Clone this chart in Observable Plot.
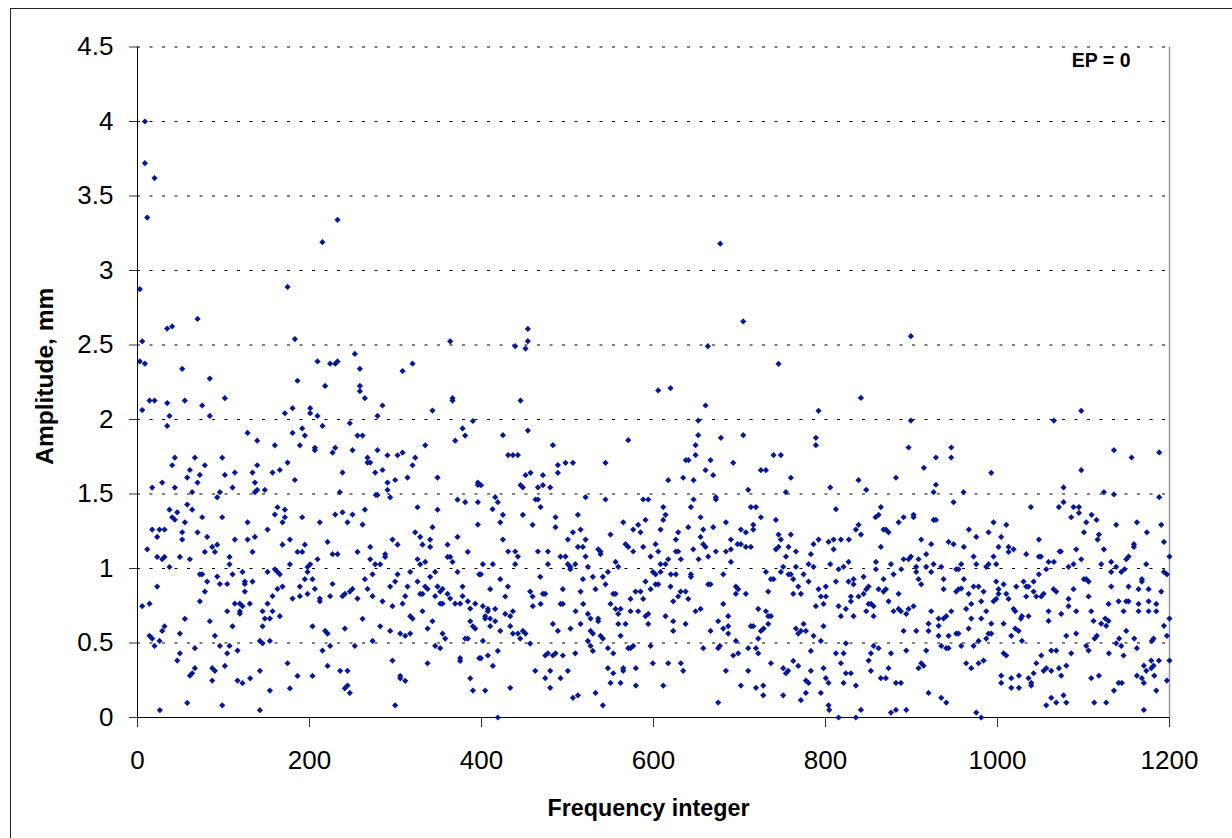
<!DOCTYPE html>
<html>
<head>
<meta charset="utf-8">
<script src="https://cdn.jsdelivr.net/npm/d3@7"></script>
<script src="https://cdn.jsdelivr.net/npm/@observablehq/plot@0.6"></script>
<style>
html,body{margin:0;padding:0;background:#fff;}
#wrap{position:relative;width:1232px;height:838px;overflow:hidden;}
#edge{position:absolute;left:10px;top:8px;right:-5px;bottom:-5px;border-left:1.5px solid #222;border-top:1.5px solid #222;}
#wrap svg{position:absolute;left:0;top:0;background:transparent !important;}
</style>
</head>
<body>
<div id="wrap"><div id="edge"></div></div>
<script>
const xTicks = [0,200,400,600,800,1000,1200];
const yTicks = [0,0.5,1,1.5,2,2.5,3,3.5,4,4.5];
const tagText = "EP = 0";
const xTitle = "Frequency integer";
const yTitle = "Amplitude, mm";

// [frequency integer, amplitude in mm]
const leftUpper = [[8.6,4],[8.6,3.72],[19.8,3.62],[11.3,3.355],[232.6,3.34],[215,3.19],[2.7,2.875],[174.5,2.89],[69.8,2.675],[40.3,2.625],[34.5,2.61],[183,2.54],[5.5,2.525],[363.6,2.525],[2.7,2.39],[8.6,2.375],[209.3,2.39],[224,2.375],[230,2.375],[232.6,2.39],[252.7,2.44],[258.6,2.34],[319.8,2.375],[308.2,2.325],[52,2.34],[84.1,2.275],[186,2.26],[218.2,2.225],[258.6,2.225],[258.6,2.19],[264.4,2.143],[366.3,2.143],[366.3,2.127],[101.6,2.143],[14,2.127],[19.8,2.127],[34.5,2.11],[55,2.127],[75.2,2.094],[284.9,2.094],[180.3,2.076],[200.8,2.076],[5.5,2.063],[343,2.06]];
const leftLower = [[37.2,2.024],[84.1,2.024],[34.5,1.957],[171.4,2.042],[200.8,2.042],[209.3,2.024],[215.1,1.957],[246.9,1.975],[279.1,2.024],[390,1.99],[378,1.94],[381,1.892],[369.4,1.858],[191.5,1.94],[180.3,1.91],[194.6,1.892],[188.8,1.827],[128,1.91],[139.2,1.858],[159.7,1.827],[255.8,1.892],[261.7,1.892],[334.5,1.827],[206.2,1.81],[206.2,1.794],[229.9,1.81],[226.8,1.778],[250,1.794],[279,1.794],[308.2,1.778],[302.4,1.76],[290.7,1.76],[322.9,1.744],[267.5,1.744],[267.5,1.711],[270.6,1.711],[43.4,1.744],[40.3,1.693],[66.7,1.744],[78.3,1.693],[98.5,1.744],[60.9,1.661],[57.8,1.61],[72.5,1.628],[69.8,1.577],[101.6,1.628],[113.2,1.644],[133.7,1.644],[139.2,1.693],[157,1.644],[165.5,1.661],[174.5,1.711],[183,1.594],[238.4,1.644],[319.8,1.693],[284.9,1.661],[276.4,1.644],[314,1.61],[299.6,1.594],[290.7,1.577],[348.9,1.61],[17.1,1.543],[28.7,1.577],[43.4,1.543],[63.6,1.512],[95.8,1.512],[92.7,1.478],[110.5,1.543],[136.5,1.577],[139.2,1.527],[136.5,1.512],[148.1,1.527],[235.3,1.512],[277.2,1.494],[279,1.494],[290.7,1.527],[293.8,1.478],[395.8,1.577],[395.8,1.561],[372.1,1.462],[381,1.445],[395.8,1.445],[325.6,1.411],[348.9,1.395],[37.2,1.395],[46.2,1.377],[57.8,1.429],[63.6,1.395],[40.3,1.344],[43.4,1.328],[55.1,1.31],[75.2,1.344],[98.5,1.344],[162.8,1.411],[171.4,1.395],[159.7,1.362],[171.4,1.344],[168.6,1.31],[191.5,1.344],[212,1.31],[229.9,1.362],[238.4,1.377],[250,1.362],[244.2,1.31],[264.4,1.395],[261.7,1.295],[395.8,1.295],[128,1.31],[17.1,1.261],[25.6,1.261],[31.4,1.261],[22.9,1.212],[52,1.243],[52,1.194],[69.8,1.243],[81,1.212],[113.2,1.194],[128,1.194],[136.5,1.212],[151.2,1.261],[177.2,1.194],[168.6,1.16],[194.6,1.16],[221,1.178],[322.9,1.243],[328.7,1.212],[343,1.277],[340.3,1.194],[331.4,1.16],[340.3,1.145],[296.5,1.194],[302.4,1.16],[270.6,1.145],[360.5,1.16],[372.1,1.212],[11.3,1.129],[86.9,1.145],[92.7,1.16],[78.3,1.111],[90,1.111],[133.7,1.111],[186.1,1.111],[191.5,1.111],[226.8,1.096],[232.6,1.096],[255.8,1.111],[288,1.096],[288,1.078],[384.1,1.111],[22.9,1.078],[31.4,1.078],[28.7,1.062],[49.3,1.078],[60.9,1.062],[107,1.078],[107,1.028],[209.3,1.062],[270.6,1.062],[325.6,1.062],[334.5,1.044],[328.7,1.028],[360.5,1.078],[363.6,1.078],[366.3,1.044],[200.8,1.028],[197.7,1.01],[177.2,1.028],[276.4,1.028],[282.2,1.028],[37.2,1.01],[159.7,0.995],[162.8,0.977],[165.5,0.961],[151.2,0.977],[122.1,0.977],[197.7,0.977],[317.1,0.977],[346.1,0.977],[372.1,0.977],[397.3,0.961],[72.5,0.961],[75.2,0.961],[110.5,0.961],[92.7,0.946],[273.3,0.961],[302.4,0.961],[340.3,0.944],[264.4,0.928],[194.6,0.928],[203.5,0.928],[81,0.912],[124.8,0.912],[133.7,0.912],[325.6,0.912],[299.6,0.912],[95.8,0.896],[104.3,0.896],[124.8,0.896],[226.8,0.896],[22.9,0.879],[168.6,0.879],[188.8,0.879],[293.8,0.879],[314,0.879],[334.5,0.879],[337.3,0.863],[348.9,0.879],[378,0.879],[162.8,0.863],[267.5,0.863],[354.7,0.863],[352,0.845],[78.3,0.845],[124.8,0.845],[250,0.863],[246.9,0.845],[206.2,0.863],[197.7,0.829],[188.8,0.814],[157,0.814],[180.3,0.798],[212,0.798],[212,0.78],[224,0.814],[241.1,0.829],[238.4,0.814],[255.8,0.798],[273.3,0.814],[284.9,0.78],[311.3,0.814],[328.7,0.829],[331.4,0.829],[346.1,0.814],[360.5,0.829],[363.6,0.798],[378,0.814],[384.1,0.78],[72.5,0.78],[5.5,0.747],[14,0.764],[113.2,0.764],[119,0.764],[122.1,0.747],[130.6,0.764],[151.2,0.764],[296.5,0.747],[308.2,0.764],[352,0.764],[354.7,0.764],[369.4,0.764],[375.2,0.764],[392.7,0.764],[386.9,0.731],[104.3,0.713],[119,0.713],[119,0.697],[145.4,0.713],[157,0.713],[331.4,0.713],[317.1,0.68],[319.8,0.664],[165.5,0.68],[148.1,0.664],[153.9,0.664],[55.1,0.662],[84.1,0.646],[261.7,0.662],[343,0.646],[386.9,0.646],[390,0.612],[392.7,0.597],[110.5,0.612],[145.4,0.612],[203.5,0.612],[282.2,0.612],[31.4,0.612],[28.7,0.581],[49.3,0.563],[241.1,0.597],[218.2,0.581],[221,0.563],[293.8,0.581],[337.3,0.597],[305.5,0.563],[311.3,0.548],[317.1,0.563],[354.7,0.563],[357.8,0.53],[14,0.548],[17.1,0.53],[90,0.548],[25.6,0.514],[142.3,0.514],[145.4,0.498],[153.9,0.514],[273.3,0.514],[381,0.53],[384.1,0.53],[19.8,0.48],[95.8,0.48],[107,0.48],[224,0.48],[252.7,0.48],[346.1,0.48],[352,0.465],[66.7,0.465],[116.3,0.449],[215.1,0.449],[49.3,0.431],[104.3,0.431],[46.2,0.382],[375.2,0.398],[375.2,0.38],[397.3,0.398],[296.5,0.382],[174.5,0.364],[337.3,0.364],[101.6,0.346],[221,0.346],[66.7,0.331],[63.6,0.297],[60.9,0.281],[86.9,0.331],[90,0.313],[142.3,0.313],[235.7,0.313],[244.2,0.313],[186.1,0.279],[203.5,0.279],[305.5,0.279],[305.5,0.263],[386.9,0.263],[131,0.263],[86.9,0.248],[116.3,0.248],[122.1,0.23],[311.3,0.246],[244.2,0.214],[241.1,0.196],[177.2,0.196],[153.9,0.181],[390,0.181],[246.9,0.165],[57.8,0.098],[98.5,0.082],[299.6,0.082],[26,0.049],[142.3,0.049]];
const midUpper = [[677.6,3.18],[453.9,2.608],[453.9,2.526],[439.2,2.492],[451.2,2.476],[663.2,2.492],[704.3,2.658],[745.4,2.374],[605.5,2.195],[619.8,2.21],[445.4,2.127],[660.5,2.094],[791.9,2.058],[652,1.993],[453.9,1.926],[424.9,1.895],[652,1.895],[678.4,1.877],[704.3,1.895],[788.8,1.877],[570.6,1.861],[483,1.828],[648.9,1.828],[788.8,1.828],[431,1.761],[436.5,1.761],[442.3,1.761],[648.9,1.761],[739.6,1.761],[748.1,1.761],[637.6,1.727],[640.7,1.727],[666.3,1.727],[497.7,1.709],[506.3,1.709],[544.2,1.709],[692.7,1.709],[488.8,1.694],[488.8,1.642],[457,1.642],[451.2,1.626],[471.4,1.626],[660.5,1.66],[724.9,1.66],[730.7,1.66],[669.4,1.626],[617.1,1.593],[634.5,1.609],[646.6,1.593],[759.7,1.609],[399.3,1.559],[445.4,1.559],[448.1,1.544],[465.6,1.544],[471.4,1.559],[479.9,1.544],[710.1,1.528],[753.9,1.512],[805.5,1.544],[415.9,1.479],[419,1.445],[412.8,1.398],[521,1.479],[462.8,1.463],[465.6,1.463],[468.7,1.412],[544.2,1.463],[588,1.463],[593.9,1.463],[646.6,1.463],[672.5,1.479],[672.5,1.463],[611.3,1.412],[643.5,1.412],[713.2,1.412],[719.1,1.412]];
const midLower = [[424.9,1.36],[448.1,1.36],[486.1,1.344],[512.1,1.36],[421.8,1.31],[459.4,1.293],[486.1,1.277],[515.2,1.261],[506.3,1.243],[564.8,1.31],[590.7,1.326],[614,1.36],[611.3,1.326],[654.7,1.344],[724.9,1.344],[742.3,1.326],[684.2,1.31],[716,1.293],[716,1.261],[582.2,1.293],[576.4,1.261],[584.9,1.243],[608.2,1.261],[628.7,1.243],[640.4,1.277],[657.8,1.261],[669.4,1.277],[701.6,1.261],[707.4,1.243],[759.7,1.228],[745.4,1.228],[550,1.228],[424.9,1.194],[500.4,1.194],[521,1.194],[626,1.194],[654.7,1.212],[690,1.194],[748.1,1.194],[791.9,1.194],[803.5,1.178],[786.1,1.163],[567.5,1.163],[570.6,1.145],[588,1.145],[602.4,1.163],[657.8,1.163],[660.5,1.145],[512.1,1.145],[517.9,1.145],[697.7,1.163],[701.6,1.163],[707.4,1.145],[713.2,1.145],[757,1.145],[745.4,1.145],[742.3,1.129],[431,1.114],[439.2,1.114],[465.6,1.114],[477.2,1.114],[535.7,1.129],[538.4,1.114],[538.4,1.096],[576.4,1.114],[605.5,1.114],[626,1.114],[628.7,1.114],[646.2,1.129],[672.5,1.114],[684.2,1.114],[690,1.129],[765.6,1.114],[783,1.096],[442.3,1.08],[491.9,1.08],[497.7,1.08],[521,1.08],[596.6,1.08],[663.6,1.08],[754,1.08],[652.4,1.062],[631.8,1.062],[617.1,1.062],[690,1.044],[555.9,1.044],[401.6,1.029],[413.2,1.029],[439.2,1.029],[477.2,1.029],[500.4,1.029],[509,1.029],[608.2,1.029],[614,1.029],[780.3,1.029],[805.5,1.029],[503.2,1.011],[503.2,0.995],[523.7,1.011],[559,1.011],[750.8,1.011],[765.6,1.011],[786.1,1.011],[547,0.977],[599.3,0.977],[602.4,0.961],[608.2,0.977],[730.7,0.977],[748.1,0.977],[399.3,0.961],[620.2,0.961],[626,0.961],[643.5,0.961],[643.5,0.944],[681.1,0.961],[757,0.961],[759.7,0.961],[774.5,0.961],[468.3,0.944],[529.5,0.944],[541.1,0.944],[421.8,0.928],[517.9,0.928],[590.7,0.912],[736.5,0.928],[739.6,0.928],[762.5,0.928],[780.3,0.912],[544.2,0.894],[602.4,0.894],[605.5,0.894],[663.6,0.894],[666.3,0.894],[430.7,0.879],[619.8,0.879],[695.8,0.879],[698.5,0.861],[768.3,0.879],[800.4,0.879],[410.1,0.861],[494.6,0.861],[532.6,0.861],[596.6,0.861],[791.9,0.861],[456.6,0.845],[515.2,0.845],[579.1,0.845],[584.9,0.845],[631.5,0.845],[637.3,0.845],[733.4,0.845],[471.4,0.83],[474.1,0.83],[553.2,0.83],[555.9,0.83],[695.8,0.83],[707.4,0.83],[762.5,0.83],[771.4,0.83],[459.4,0.812],[427.6,0.812],[628.7,0.812],[794.6,0.812],[800.4,0.812],[573.3,0.796],[588,0.796],[640.4,0.796],[622.9,0.78],[468.7,0.762],[491.9,0.762],[494.6,0.762],[518.3,0.762],[550,0.762],[681.1,0.762],[797.7,0.762],[401.6,0.747],[459.7,0.747],[788.8,0.747],[407.4,0.729],[415.9,0.729],[555.9,0.729],[561.7,0.729],[721.8,0.729],[407.4,0.713],[436.5,0.713],[509.4,0.713],[573.3,0.713],[582.2,0.713],[654.7,0.729],[648.9,0.713],[730.7,0.713],[427.6,0.695],[523.7,0.695],[559,0.695],[593.9,0.695],[590.7,0.68],[404.3,0.68],[433.4,0.68],[614,0.68],[686.9,0.68],[733.4,0.68],[736.5,0.68],[410.1,0.664],[404.3,0.664],[526.8,0.664],[535.7,0.664],[535.7,0.646],[415.9,0.646],[622.9,0.646],[675.2,0.646],[483,0.628],[515.2,0.628],[559,0.628],[567.5,0.628],[593.9,0.628],[637.3,0.628],[733.4,0.628],[774.5,0.628],[797.7,0.613],[410.1,0.613],[433.4,0.613],[686.9,0.613],[713.2,0.613],[716,0.613],[503.5,0.597],[681.1,0.597],[728,0.597],[765.6,0.597],[421.8,0.581],[488.8,0.581],[448.1,0.581],[622.9,0.581],[666.3,0.581],[724.9,0.581],[777.2,0.581],[526.8,0.581],[529.5,0.563],[436.5,0.563],[442.3,0.563],[451.2,0.563],[686.9,0.563],[768.3,0.563],[771.4,0.581],[538.4,0.548],[561.7,0.548],[786.1,0.548],[541.1,0.53],[445,0.53],[721.8,0.53],[401.6,0.514],[523.7,0.514],[695.8,0.514],[794.6,0.514],[456.6,0.496],[526.8,0.48],[596.6,0.48],[576.4,0.48],[573.3,0.465],[570.6,0.465],[547,0.465],[657.8,0.465],[710.1,0.465],[719.1,0.465],[677.2,0.48],[675.2,0.465],[529.5,0.447],[419,0.447],[553.2,0.431],[477.2,0.431],[486.1,0.431],[509,0.431],[698.5,0.431],[721.8,0.431],[407.4,0.416],[474.1,0.416],[483,0.416],[494.6,0.416],[692.7,0.416],[783,0.447],[399.3,0.398],[762.5,0.38],[599.3,0.364],[617.1,0.364],[631.8,0.364],[736.5,0.364],[413.2,0.346],[768.3,0.346],[547,0.331],[564.8,0.331],[579.5,0.331],[564.8,0.313],[750.8,0.331],[797.7,0.331],[462.5,0.313],[479.9,0.313],[500.4,0.313],[634.5,0.313],[684.2,0.313],[710.1,0.313],[756.6,0.313],[753.9,0.297],[553.2,0.297],[783,0.313],[474.1,0.264],[491.9,0.264],[800.4,0.264],[777.2,0.248],[780.3,0.232],[550,0.232],[561.7,0.232],[803.5,0.232],[579.5,0.214],[611.3,0.214],[701.6,0.214],[727.6,0.214],[433.4,0.199],[479.9,0.199],[719.1,0.199],[404.3,0.181],[532.6,0.165],[777.2,0.165],[794.6,0.165],[512.1,0.149],[506.3,0.132],[727.6,0.149],[750.8,0.149],[771.4,0.116],[675.2,0.1],[541.1,0.082],[803.5,0.082],[804.3,0.051],[419,0]];
const rightUpper = [[899.3,2.559],[841.2,2.145],[899.3,1.993],[1065.6,1.993],[1097.4,2.058],[896.6,1.812],[946.2,1.812],[928.4,1.745],[946.2,1.745],[1135.4,1.794],[1155.9,1.745],[1188,1.779],[914.4,1.676],[1097.4,1.66],[992.7,1.642],[838.4,1.593],[881.9,1.609],[847.4,1.528],[928.4,1.562],[925.7,1.512],[960.5,1.512],[1076.8,1.544],[1123.7,1.512],[1135.4,1.497],[1188,1.479],[948.9,1.445],[1076.8,1.445],[812.1,1.398],[864.4,1.412],[1038.8,1.412],[1071.4,1.412],[1088.4,1.412],[1094.7,1.412]];
const rightLower = [[1094.7,1.373],[1085.7,1.344],[1109.4,1.36],[1115.2,1.326],[1103.2,1.31],[1138,1.293],[1162.1,1.31],[1190.4,1.293],[1173.7,1.243],[858.2,1.344],[861.7,1.36],[885,1.31],[890.8,1.344],[902.4,1.36],[902.4,1.344],[925.7,1.326],[928.4,1.326],[995.4,1.31],[1010.2,1.293],[838.4,1.293],[835.3,1.261],[841.2,1.228],[867.5,1.261],[870.2,1.261],[873.3,1.243],[966.7,1.261],[989.6,1.243],[975.3,1.212],[1004.3,1.212],[1100.5,1.243],[1117.9,1.228],[1116.4,1.194],[809.4,1.194],[817.9,1.194],[827.2,1.194],[911.3,1.194],[943.1,1.178],[948.9,1.163],[922.9,1.163],[960.9,1.145],[864.4,1.145],[1001.2,1.145],[1012.9,1.145],[1018.7,1.129],[1012.9,1.111],[1048.1,1.194],[1193.5,1.178],[1158.6,1.163],[1158.6,1.145],[1091.5,1.129],[1123.7,1.129],[809.4,1.129],[1072.2,1.114],[1073.7,1.114],[917.1,1.096],[1033.4,1.096],[1048.1,1.08],[1050.5,1.08],[972.2,1.08],[995.4,1.08],[899.3,1.08],[896.6,1.062],[890.8,1.062],[908.2,1.062],[1152.4,1.08],[1149.7,1.062],[1097.4,1.062],[1200,1.08],[826.8,1.044],[858.6,1.044],[1059.4,1.044],[1065.6,1.044],[1132.2,1.044],[876.1,1.029],[925.7,1.029],[957.8,1.029],[975.3,1.029],[989.6,1.029],[998.5,1.029],[1088.4,1.029],[1120.6,1.029],[1172.9,1.029],[821,1.011],[815.2,0.995],[905.5,1.011],[917.1,1.011],[934.6,1.011],[986.9,1.011],[1082.6,1.011],[1138,1.011],[1147.7,0.995],[858.6,0.995],[888.1,0.995],[952,0.995],[954.7,0.995],[1056.7,0.995],[905.5,0.977],[922.9,0.977],[879.1,0.961],[1048.1,0.961],[1132.2,0.977],[1143.9,0.977],[1193.5,0.977],[1197,0.961],[844.3,0.944],[867.5,0.928],[832.6,0.928],[908.2,0.928],[937.3,0.928],[960.9,0.928],[1100.5,0.928],[1103.2,0.928],[1105.9,0.912],[1167.9,0.928],[1167.9,0.912],[812.1,0.912],[826.8,0.912],[832.6,0.894],[911.3,0.894],[998.5,0.912],[1030.3,0.912],[1042,0.912],[1007.1,0.894],[850.1,0.879],[847.4,0.861],[972.2,0.879],[978,0.879],[1021.8,0.879],[1033.4,0.879],[1036.1,0.879],[1132.2,0.879],[1152.4,0.879],[861.7,0.861],[870.2,0.861],[867.5,0.845],[937.3,0.861],[957.8,0.865],[954.7,0.861],[952,0.845],[1001.2,0.861],[983.8,0.845],[1065.2,0.861],[1068.3,0.845],[1088.4,0.861],[1164,0.861],[1175.7,0.861],[1190.4,0.845],[1042,0.845],[844.3,0.83],[885,0.83],[966.4,0.83],[1001.2,0.83],[1010.2,0.83],[1053.6,0.83],[838.4,0.812],[829.5,0.812],[1045.1,0.812],[1050.9,0.812],[1033.4,0.812],[1105.9,0.812],[1012.9,0.796],[998.5,0.796],[1082.6,0.796],[829.5,0.78],[873.3,0.78],[981.1,0.78],[995.4,0.78],[1129.1,0.762],[1140.8,0.78],[1149.7,0.78],[1152.4,0.78],[1164,0.762],[1175.7,0.78],[1184.6,0.762],[850.1,0.762],[853.2,0.762],[855.9,0.747],[969.5,0.762],[815.2,0.747],[823.7,0.729],[902.4,0.747],[896.6,0.729],[1082.6,0.747],[963.6,0.729],[1018.7,0.729],[885,0.729],[879.1,0.713],[887.7,0.713],[847.4,0.713],[922.9,0.713],[946.2,0.713],[986.9,0.713],[1020.6,0.713],[1059.4,0.713],[1091.5,0.713],[1109,0.713],[1146.6,0.713],[1164,0.713],[1175.7,0.713],[1184.6,0.713],[893.9,0.695],[1074.1,0.695],[817.9,0.68],[832.6,0.68],[855.9,0.68],[940.4,0.68],[1028.4,0.68],[1036.1,0.68],[931.5,0.664],[937.3,0.664],[969.5,0.664],[981.1,0.664],[1027.2,0.664],[1125.3,0.664],[1129.1,0.648],[1200,0.664],[1111.7,0.648],[1059.4,0.648],[919.8,0.63],[992.7,0.63],[1007.1,0.63],[1120.6,0.63],[931.5,0.615],[1126.4,0.615],[1193.5,0.615],[966.4,0.597],[1020.6,0.597],[890.8,0.581],[905.5,0.581],[919.8,0.581],[1024.5,0.581],[1149.7,0.581],[952,0.563],[954.7,0.563],[989.6,0.563],[992.7,0.563],[1091.5,0.563],[931.5,0.548],[943.1,0.548],[986.9,0.53],[1016,0.548],[1080,0.548],[1115.5,0.548],[1197,0.548],[1112.9,0.53],[1141.5,0.53],[1159,0.53],[1181.5,0.53],[978,0.514],[1028.4,0.514],[1179.5,0.514],[823.7,0.498],[1138,0.498],[855.9,0.48],[934.6,0.48],[957.8,0.48],[972.2,0.48],[1103.2,0.48],[1143.9,0.48],[861.7,0.465],[940.4,0.465],[943.1,0.465],[1162.1,0.465],[1062.5,0.449],[1068.3,0.449],[893.9,0.449],[917.1,0.449],[1105.9,0.449],[812.1,0.431],[821,0.431],[852.8,0.431],[876.1,0.431],[1007.1,0.431],[1085.7,0.431],[1129.5,0.431],[1010.2,0.416],[1050.9,0.416],[1146.6,0.416],[850.1,0.382],[983.8,0.382],[1178.8,0.382],[1187.7,0.382],[1200,0.382],[817.9,0.364],[963.6,0.364],[978,0.364],[1045.1,0.364],[911.3,0.364],[908.2,0.331],[914,0.348],[873.3,0.331],[969.5,0.331],[1071.4,0.331],[1080,0.348],[1056.7,0.331],[1053.6,0.313],[1062.5,0.313],[1170.2,0.348],[1181.5,0.348],[1178.8,0.331],[1173,0.313],[852.8,0.313],[823.7,0.297],[829.5,0.297],[1042,0.297],[1004.3,0.281],[1024.9,0.281],[1074.1,0.281],[1117.9,0.281],[1162.1,0.281],[1182.3,0.281],[864.4,0.264],[870.2,0.264],[1016,0.264],[1036.1,0.264],[1109,0.264],[1167.9,0.264],[1197,0.248],[821,0.232],[881.9,0.232],[887.7,0.232],[1004.3,0.232],[1039.2,0.232],[1140.8,0.232],[1144.6,0.232],[1170.2,0.232],[1039.2,0.214],[835.3,0.214],[1016,0.199],[1024.9,0.199],[1135.4,0.181],[1184.6,0.181],[919.8,0.165],[1076.8,0.149],[1062.5,0.132],[934.6,0.132],[940.4,0.1],[1068.3,0.1],[1080,0.1],[1112.5,0.1],[1126.4,0.1],[1056.7,0.082],[841.2,0.051],[881.9,0.051],[893.9,0.051],[876.1,0.033],[975.3,0.033],[1170.2,0.051],[815.2,0],[835.3,0],[981.1,0]];

const points = [...leftUpper, ...leftLower, ...midUpper, ...midLower, ...rightUpper, ...rightLower];

const chart = Plot.plot({
  width: 1232, height: 838,
  marginLeft: 137, marginRight: 63, marginTop: 46.5, marginBottom: 121,
  style: {fontFamily: "'Liberation Sans', Arial, sans-serif", background: "transparent", color: "#000"},
  x: {domain: [0, 1200]},
  y: {domain: [0, 4.5]},
  marks: [
    Plot.ruleY(yTicks.filter(d => d > 0), {stroke: "#000", strokeWidth: 1, strokeDasharray: "3,9.5"}),
    Plot.ruleX([1200], {stroke: "#999", strokeWidth: 1.5}),
    Plot.axisY({ticks: yTicks, tickFormat: d => String(d), tickSize: 8, tickPadding: 16, fontSize: 26, label: null, stroke: "#333"}),
    Plot.axisX({ticks: xTicks, tickFormat: d => String(d), tickSize: 10, tickPadding: 23, fontSize: 26, label: null, stroke: "#333"}),
    Plot.ruleX([0], {stroke: "#000"}),
    Plot.ruleY([0], {stroke: "#000"}),
    Plot.dot(points, {x: d => d[0], y: d => d[1], symbol: "diamond2", r: 2.8, fill: "#06189a", stroke: null}),
    Plot.text([tagText], {frameAnchor: "top-right", dx: -39, dy: 6.5, fontSize: 19.5, fontWeight: "bold", fill: "#000", lineAnchor: "top"}),
    Plot.text([xTitle], {frameAnchor: "bottom", dx: -5, dy: 98, fontSize: 23.3, fontWeight: "bold", fill: "#000"}),
    Plot.text([yTitle], {frameAnchor: "left", textAnchor: "middle", rotate: -90, dx: -92, dy: -6, fontSize: 24.5, fontWeight: "bold", fill: "#000"})
  ]
});
document.getElementById("wrap").appendChild(chart);
</script>
</body>
</html>
